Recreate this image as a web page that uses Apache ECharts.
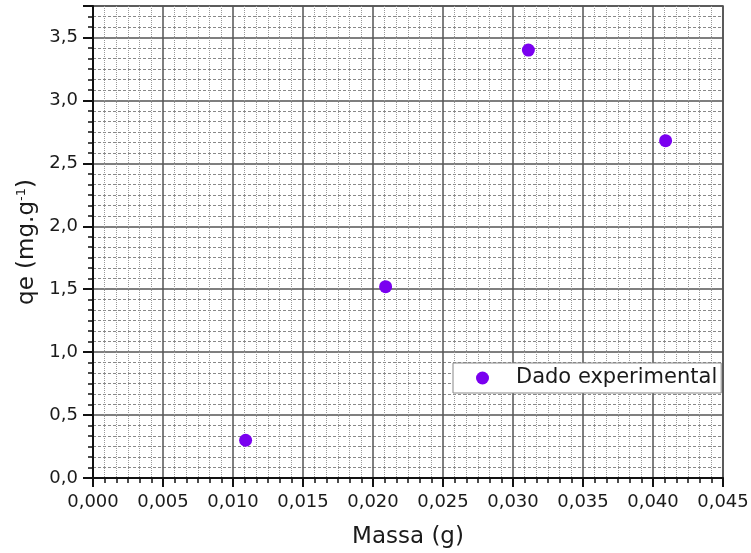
<!DOCTYPE html>
<html>
<head>
<meta charset="utf-8">
<script src="https://cdn.jsdelivr.net/npm/echarts@6/dist/echarts.min.js"></script>
<style>html,body{margin:0;padding:0;background:#fff}#c{width:751px;height:553px}</style>
</head>
<body>
<div id="c"></div>
<script>
var massa = [0.0109, 0.0209, 0.0311, 0.0409];
var qe = [0.30, 1.52, 3.40, 2.68];
var seriesName = 'Dado experimental';
var xTitle = 'Massa (g)';

var pts = massa.map(function (m, i) { return [m, qe[i]]; });
var font = 'DejaVu Sans, sans-serif';
var chart = echarts.init(document.getElementById('c'), null, {renderer: 'canvas'});
chart.setOption({
  animation: false,
  backgroundColor: '#fff',
  grid: {left: 93, right: 28, top: 6, bottom: 75, containLabel: false, outerBoundsMode: 'none',
    show: true, borderColor: '#444', borderWidth: 1.5, backgroundColor: 'transparent'},
  legend: {
    data: [seriesName],
    left: 453, top: 363,
    orient: 'vertical',
    backgroundColor: '#fff',
    borderColor: '#888', borderWidth: 1,
    padding: [4, 4, 4, 23],
    itemWidth: 13, itemHeight: 13,
    icon: 'circle',
    textStyle: {fontFamily: font, fontSize: 21, color: '#1a1a1a', lineHeight: 22, padding: [0, 0, 0, 22]}
  },
  xAxis: {
    type: 'value', min: 0, max: 0.045, interval: 0.005,
    name: xTitle, nameLocation: 'middle', nameGap: 48,
    nameTextStyle: {fontFamily: font, fontSize: 23, color: '#1a1a1a'},
    axisLine: {show: true, onZero: false, lineStyle: {color: '#111', width: 2}},
    axisTick: {show: true, inside: false, length: 9, lineStyle: {color: '#111', width: 2}},
    minorTick: {show: true, splitNumber: 6, length: 5, lineStyle: {color: '#111', width: 1.5}},
    axisLabel: {fontFamily: font, fontSize: 18, color: '#1a1a1a', margin: 15,
      formatter: function (v) { return v.toFixed(3).replace('.', ','); }},
    splitLine: {show: true, lineStyle: {color: '#555', width: 1.5}},
    minorSplitLine: {show: true, lineStyle: {color: '#999', width: 1, type: 'dotted'}}
  },
  yAxis: {
    type: 'value', min: 0, max: 3.75, interval: 0.5,
    name: 'qe (mg.g{sup|-1})', nameLocation: 'middle', nameGap: 50,
    nameTextStyle: {fontFamily: font, fontSize: 23, color: '#1a1a1a',
      rich: {sup: {fontFamily: font, fontSize: 13, color: '#1a1a1a', verticalAlign: 'top', padding: [0, 0, 10, 0]}}},
    axisLine: {show: true, onZero: false, lineStyle: {color: '#111', width: 2}},
    axisTick: {show: true, inside: false, length: 10, lineStyle: {color: '#111', width: 2}},
    minorTick: {show: true, splitNumber: 6, length: 5, lineStyle: {color: '#111', width: 1.5}},
    axisLabel: {fontFamily: font, fontSize: 18, color: '#1a1a1a', margin: 15,
      formatter: function (v) { var r = Math.round(v * 2) / 2; return Math.abs(r - v) < 1e-9 ? v.toFixed(1).replace('.', ',') : ''; }},
    splitLine: {show: true, lineStyle: {color: '#555', width: 1.5}},
    minorSplitLine: {show: true, lineStyle: {color: '#888', width: 1, type: [3, 2]}}
  },
  series: [{
    name: seriesName, type: 'scatter', data: pts,
    symbol: 'circle', symbolSize: 13,
    itemStyle: {color: '#7a00f0', opacity: 1}
  }]
});
</script>
</body>
</html>
